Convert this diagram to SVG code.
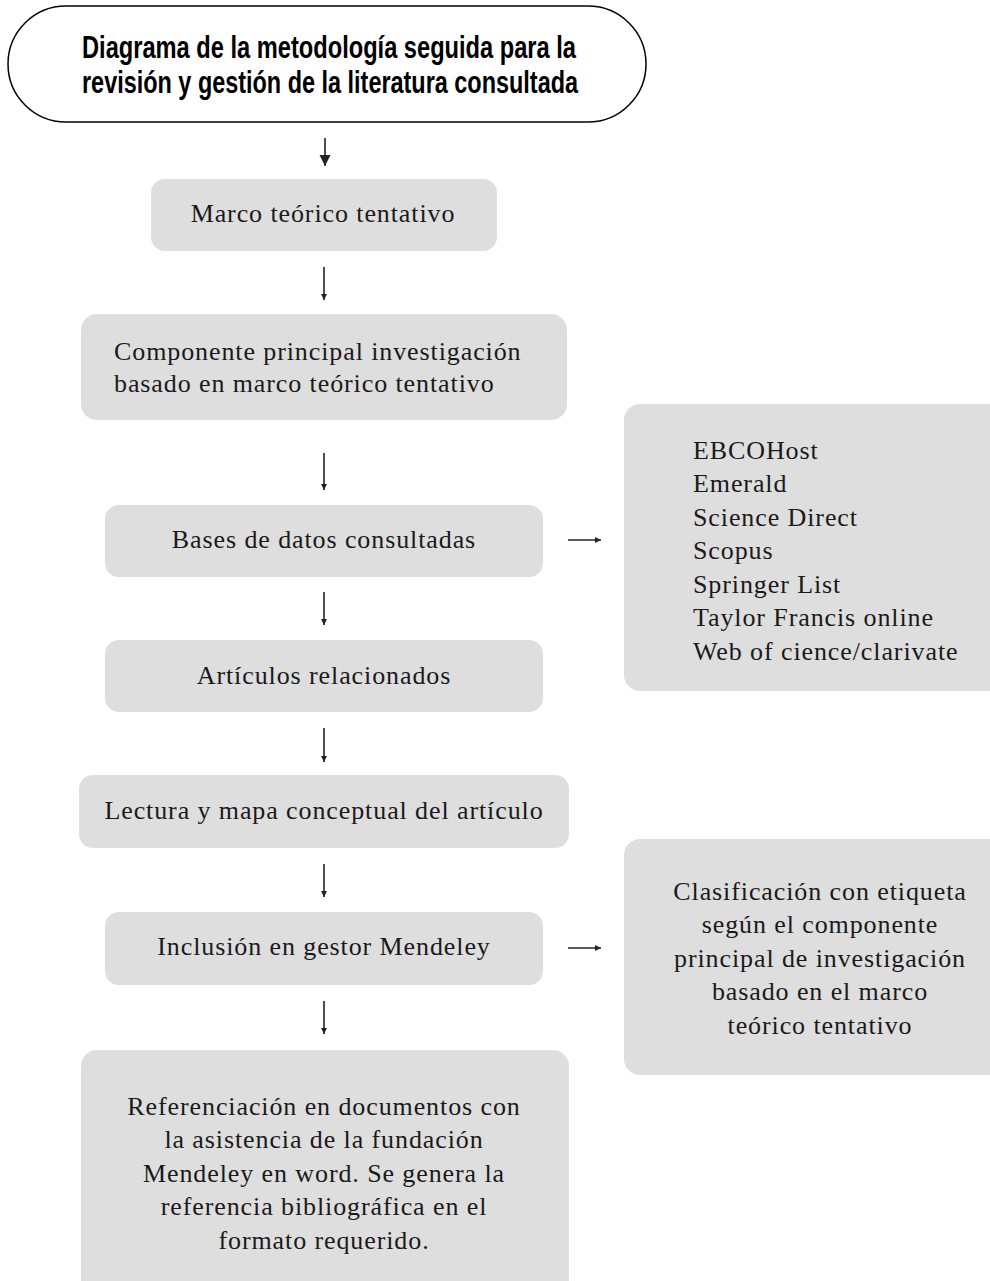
<svg xmlns="http://www.w3.org/2000/svg" width="990" height="1281" viewBox="0 0 990 1281">
<style>
.box{fill:#dedede}
.t{font-family:"Liberation Serif","DejaVu Serif",serif;font-size:26px;letter-spacing:0.9px;fill:#1a1a1a}
.c{text-anchor:middle}
.title{font-family:"Liberation Sans","DejaVu Sans",sans-serif;font-weight:bold;font-size:32px;fill:#000}
.ln{stroke:#222;stroke-width:1.6;fill:none}
</style>
<defs>
<marker id="big" viewBox="0 0 10 10" refX="10" refY="5" markerWidth="11" markerHeight="12" markerUnits="userSpaceOnUse" orient="auto"><path d="M0,0 L10,5 L0,10 z" fill="#222"/></marker>
<marker id="sm" viewBox="0 0 10 10" refX="10" refY="5" markerWidth="6" markerHeight="7" markerUnits="userSpaceOnUse" orient="auto"><path d="M0,0 L10,5 L0,10 z" fill="#222"/></marker>
</defs>
<rect width="990" height="1281" fill="#fff"/>
<g id="title">
<rect x="8" y="6" width="638" height="116" rx="58" ry="58" fill="#fff" stroke="#000" stroke-width="1.5"/>
<text class="title" x="82" y="58" textLength="494" lengthAdjust="spacingAndGlyphs">Diagrama de la metodología seguida para la</text>
<text class="title" x="82" y="93" textLength="496" lengthAdjust="spacingAndGlyphs">revisión y gestión de la literatura consultada</text>
</g>
<g id="n1"><rect class="box" x="151" y="179" width="346" height="72" rx="14"/><text class="t c" x="323" y="222">Marco teórico tentativo</text></g>
<g id="n2"><rect class="box" x="81" y="314" width="486" height="106" rx="16"/><text class="t" x="114" y="360">Componente principal investigación</text><text class="t" x="114" y="392">basado en marco teórico tentativo</text></g>
<g id="n3"><rect class="box" x="105" y="505" width="438" height="72" rx="14"/><text class="t c" x="324" y="548">Bases de datos consultadas</text></g>
<g id="n4"><rect class="box" x="105" y="640" width="438" height="72" rx="14"/><text class="t c" x="324" y="684">Artículos relacionados</text></g>
<g id="n5"><rect class="box" x="79" y="775" width="490" height="73" rx="14"/><text class="t c" x="324" y="819">Lectura y mapa conceptual del artículo</text></g>
<g id="n6"><rect class="box" x="105" y="912" width="438" height="73" rx="14"/><text class="t c" x="324" y="955">Inclusión en gestor Mendeley</text></g>
<g id="n7"><rect class="box" x="81" y="1050" width="488" height="250" rx="16"/>
<text class="t c" x="324" y="1115">Referenciación en documentos con</text>
<text class="t c" x="324" y="1148">la asistencia de la fundación</text>
<text class="t c" x="324" y="1182">Mendeley en word. Se genera la</text>
<text class="t c" x="324" y="1215">referencia bibliográfica en el</text>
<text class="t c" x="324" y="1249">formato requerido.</text></g>
<g id="db"><rect class="box" x="624" y="404" width="380" height="287" rx="16"/>
<text class="t" x="693" y="459">EBCOHost</text>
<text class="t" x="693" y="492">Emerald</text>
<text class="t" x="693" y="526">Science Direct</text>
<text class="t" x="693" y="559">Scopus</text>
<text class="t" x="693" y="593">Springer List</text>
<text class="t" x="693" y="626">Taylor Francis online</text>
<text class="t" x="693" y="660">Web of cience/clarivate</text></g>
<g id="cls"><rect class="box" x="624" y="839" width="380" height="236" rx="16"/>
<text class="t c" x="820" y="900">Clasificación con etiqueta</text>
<text class="t c" x="820" y="933">según el componente</text>
<text class="t c" x="820" y="967">principal de investigación</text>
<text class="t c" x="820" y="1000">basado en el marco</text>
<text class="t c" x="820" y="1034">teórico tentativo</text></g>
<g id="connectors">
<line class="ln" x1="325" y1="138" x2="325" y2="166" marker-end="url(#big)"/>
<line class="ln" x1="324" y1="267" x2="324" y2="300" marker-end="url(#sm)"/>
<line class="ln" x1="324" y1="453" x2="324" y2="490" marker-end="url(#sm)"/>
<line class="ln" x1="324" y1="592" x2="324" y2="625" marker-end="url(#sm)"/>
<line class="ln" x1="324" y1="728" x2="324" y2="762" marker-end="url(#sm)"/>
<line class="ln" x1="324" y1="864" x2="324" y2="897" marker-end="url(#sm)"/>
<line class="ln" x1="324" y1="1001" x2="324" y2="1034" marker-end="url(#sm)"/>
<line class="ln" x1="568" y1="540" x2="601" y2="540" marker-end="url(#sm)"/>
<line class="ln" x1="568" y1="948" x2="601" y2="948" marker-end="url(#sm)"/>
</g>
</svg>
